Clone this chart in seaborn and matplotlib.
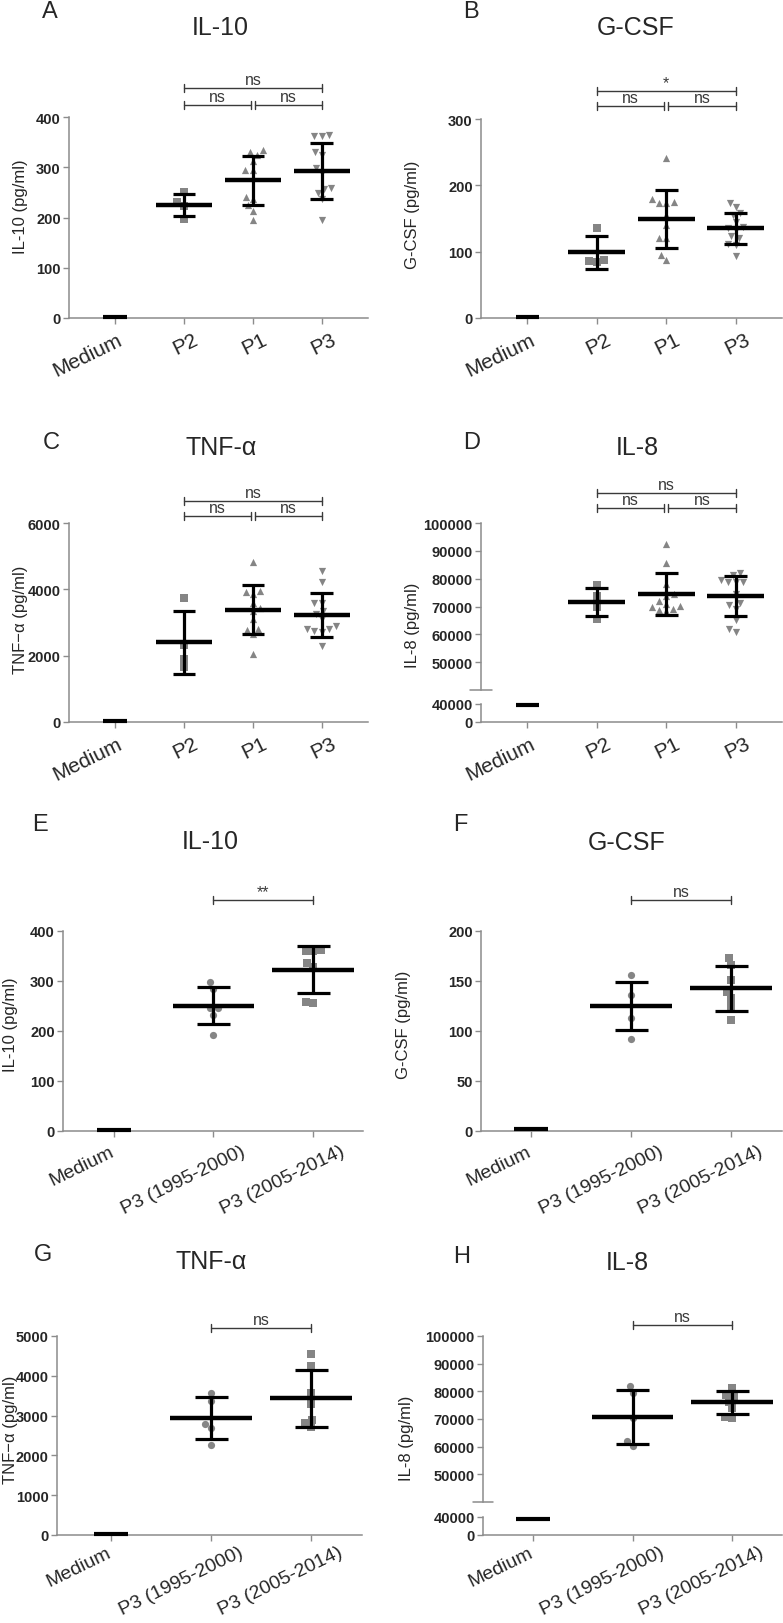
import matplotlib

matplotlib.use('Agg')
import matplotlib.pyplot as plt
import matplotlib.transforms as mtransforms
import pandas as pd
import seaborn as sns

W, H, DPI = 783, 1624, 100

GROUPS_TOP = ['Medium', 'P2', 'P1', 'P3']
GROUPS_YEAR = ['Medium', 'P3 (1995-2000)', 'P3 (2005-2014)']

# A - IL-10 per group (pg/ml)
IL10_P2 = [250, 230, 223, 197]
IL10_P1 = [335, 330, 325, 313, 295, 294, 240, 236, 224, 213, 196]
IL10_P3 = [364, 362, 363, 330, 325, 298, 288, 258, 257, 248, 236, 195]
IL10_MEAN = [2, 225, 274, 293]
IL10_SD = [0, 22, 49, 56]

# B - G-CSF per group
GCSF_P2 = [135, 88, 85, 86]
GCSF_P1 = [241, 180, 175, 174, 174, 155, 140, 121, 120, 95, 87]
GCSF_P3 = [174, 167, 158, 155, 145, 137, 135, 133, 124, 120, 112, 110, 93]
GCSF_MEAN = [2, 99, 149, 135]
GCSF_SD = [0, 25, 44, 24]

# C - TNF-alpha per group
TNF_P2 = [3730, 2310, 1890, 1645]
TNF_P1 = [4815, 3960, 3860, 3910, 3440, 3600, 3340, 3110, 2780, 2810, 2660, 2060]
TNF_P3 = [4540, 4230, 3590, 3590, 3360, 3250, 3100, 2890, 2810, 2800, 2730, 2720, 2290]
TNF_MEAN = [30, 2400, 3390, 3220]
TNF_SD = [0, 945, 750, 670]

# D - IL-8 per group
IL8_P2 = [77700, 73800, 70000, 65400]
IL8_P1 = [92400, 85800, 78000, 74400, 73800, 72000, 70900, 70200, 70000, 69200, 68600, 68300]
IL8_P3 = [82000, 81200, 79400, 78800, 78800, 78800, 74400, 71100, 70500, 69000, 65000, 61800, 60800]
IL8_MEAN = [37000, 71600, 74600, 73800]
IL8_SD = [0, 5100, 7500, 7200]

# E-H - P3 split by isolation period
IL10_Y95 = [298, 285, 246, 246, 233, 193]
IL10_Y05 = [363, 361, 361, 337, 329, 258, 256]
IL10_YR_MEAN = [2, 251, 323]
IL10_YR_SD = [0, 37.5, 47.5]

GCSF_Y95 = [156, 136, 113, 92]
GCSF_Y05 = [173, 166, 151, 139, 133, 125, 111]
GCSF_YR_MEAN = [2, 125, 143]
GCSF_YR_SD = [0, 24, 22.5]

TNF_Y95 = [3570, 3360, 2790, 2680, 2260]
TNF_Y05 = [4550, 4240, 3570, 3290, 2890, 2810, 2710]
TNF_YR_MEAN = [30, 2935, 3430]
TNF_YR_SD = [0, 525, 720]

IL8_Y95 = [81900, 79500, 70300, 62000, 60400]
IL8_Y05 = [81100, 78700, 78300, 76300, 73900, 70900, 70400]
IL8_YR_MEAN = [36500, 70700, 76000]
IL8_YR_SD = [0, 9700, 4100]

TOP_MARKERS = ['s', '^', 'v']
YEAR_MARKERS = ['o', 's']

POINT = '#858585'
SPINE = '#8c8c8c'
BRACKET = '#3a3a3a'

# horizontal nudges (px) of the rotated tick labels, like the original layout
SHIFT_TOP = [2, 9, 9, 9]
SHIFT_YEAR = [-5, 27, 27]

sns.set_style('ticks')
plt.rcParams['font.family'] = ['Liberation Sans', 'DejaVu Sans']


def make_axes(fig, left, top, right, bottom):
    return fig.add_axes([left / W, 1 - bottom / H, (right - left) / W, (bottom - top) / H])


def draw_groups(ax, groups, series, markers):
    for idx, (vals, mk) in enumerate(zip(series, markers), start=1):
        df = pd.DataFrame({'group': groups[idx], 'value': vals})
        sns.swarmplot(data=df, x='group', y='value', order=groups, marker=mk,
                      color=POINT, size=5.2, linewidth=0, ax=ax, zorder=2)


def draw_summary(ax, means, sds, idxs):
    for i in idxs:
        m, s = means[i], sds[i]
        if s == 0:
            ax.hlines(m, i - 0.17, i + 0.17, color='black', lw=3.0, zorder=4, clip_on=False)
            continue
        ax.hlines(m, i - 0.41, i + 0.41, color='black', lw=3.2, zorder=4)
        ax.vlines(i, m - s, m + s, color='black', lw=2.3, zorder=4)
        ax.hlines([m - s, m + s], i - 0.165, i + 0.165, color='black', lw=2.3, zorder=4)


def finish_axes(ax, groups, xlim, ylim, yticks, shifts=None, xsize=15, drop=3, bottom_spine=True):
    sns.despine(ax=ax, bottom=not bottom_spine)
    for side in ('left', 'bottom'):
        ax.spines[side].set_color(SPINE)
        ax.spines[side].set_linewidth(1.1)
    ax.set_xlim(*xlim)
    ax.set_ylim(*ylim)
    ax.set_yticks(yticks)
    ax.set_yticklabels([f'{t:g}' for t in yticks], fontweight='bold', fontsize=10.5)
    ax.tick_params(axis='both', color=SPINE, length=4, width=1, pad=2)
    ax.set_xlabel('')
    ax.set_ylabel('')
    if shifts is not None:
        ax.set_xticks(range(len(groups)))
        ax.set_xticklabels(groups, rotation=26, ha='right', va='top',
                           rotation_mode='anchor', fontsize=xsize)
        for lbl, dx in zip(ax.get_xticklabels(), shifts):
            shift = mtransforms.ScaledTranslation(dx / DPI, -drop / DPI, ax.figure.dpi_scale_trans)
            lbl.set_transform(lbl.get_transform() + shift)
    else:
        ax.set_xticks([])


def ylabel(fig, ax, text, xpix, ycenter):
    ax.set_ylabel(text, fontsize=12)
    ax.yaxis.set_label_coords(xpix / W, 1 - ycenter / H, transform=fig.transFigure)


def bracket(fig, ax, x1, x2, ypix, label):
    tr = mtransforms.blended_transform_factory(ax.transData, fig.transFigure)
    y = 1 - ypix / H
    dy = 4 / H
    kw = dict(color=BRACKET, lw=1.0, transform=tr, clip_on=False)
    ax.plot([x1, x2], [y, y], **kw)
    ax.plot([x1, x1], [y - dy, y + dy], **kw)
    ax.plot([x2, x2], [y - dy, y + dy], **kw)
    ax.text((x1 + x2) / 2, y + 1 / H, label, transform=tr, ha='center', va='bottom',
            fontsize=11.5, color=BRACKET,
            family=['Liberation Sans Narrow', 'Liberation Sans', 'DejaVu Sans'])


def heading(fig, letter, lx, ly, title, tx, ty):
    fig.text(lx / W, 1 - ly / H, letter, ha='center', va='center', fontsize=17)
    fig.text(tx / W, 1 - ty / H, title, ha='center', va='center', fontsize=18)


def three_brackets(fig, ax, ylow, yhigh, top_label):
    bracket(fig, ax, 1, 1.97, ylow, 'ns')
    bracket(fig, ax, 2.03, 3, ylow, 'ns')
    bracket(fig, ax, 1, 3, yhigh, top_label)


def simple_panel(fig, box, groups, series, markers, means, sds, ylim, yticks, xlim, shifts, xsize,
                 drop=3):
    ax = make_axes(fig, *box)
    draw_groups(ax, groups, series, markers)
    draw_summary(ax, means, sds, range(len(groups)))
    finish_axes(ax, groups, xlim, ylim, yticks, shifts=shifts, xsize=xsize, drop=drop)
    return ax


def broken_panel(fig, left, right, top, break_y, low_top, bottom, groups, series, markers,
                 means, sds, xlim, shifts, xsize, drop=3):
    upper = make_axes(fig, left, top, right, break_y)
    draw_groups(upper, groups, series, markers)
    draw_summary(upper, means, sds, range(1, len(groups)))
    finish_axes(upper, groups, xlim, (40000, 100000), [50000, 60000, 70000, 80000, 90000, 100000],
                bottom_spine=False)
    upper.plot([-0.035, 0.035], [0, 0], color=SPINE, lw=1.1, transform=upper.transAxes, clip_on=False)
    lower = make_axes(fig, left, low_top, right, bottom)
    draw_summary(lower, means, sds, [0])
    finish_axes(lower, groups, xlim, (0, 40000), [0, 40000], shifts=shifts, xsize=xsize, drop=drop)
    return upper, lower


fig = plt.figure(figsize=(W / DPI, H / DPI), dpi=DPI)

# A
heading(fig, 'A', 50, 12, 'IL-10', 220, 28)
ax = simple_panel(fig, (69, 118, 368, 319), GROUPS_TOP, [IL10_P2, IL10_P1, IL10_P3], TOP_MARKERS,
                  IL10_MEAN, IL10_SD, (0, 400), [0, 100, 200, 300, 400], (-0.67, 3.67), SHIFT_TOP, 15)
ylabel(fig, ax, 'IL-10 (pg/ml)', 28, 207)
three_brackets(fig, ax, 106, 89, 'ns')

# B
heading(fig, 'B', 471, 12, 'G-CSF', 636, 28)
ax = simple_panel(fig, (481, 120, 782, 319), GROUPS_TOP, [GCSF_P2, GCSF_P1, GCSF_P3], TOP_MARKERS,
                  GCSF_MEAN, GCSF_SD, (0, 300), [0, 100, 200, 300], (-0.67, 3.67), SHIFT_TOP, 15)
ylabel(fig, ax, 'G-CSF (pg/ml)', 420, 215)
three_brackets(fig, ax, 107, 92, '*')

# C
heading(fig, 'C', 51, 443, 'TNF-\u03b1', 221, 448)
ax = simple_panel(fig, (69, 524, 368, 723), GROUPS_TOP, [TNF_P2, TNF_P1, TNF_P3], TOP_MARKERS,
                  TNF_MEAN, TNF_SD, (0, 6000), [0, 2000, 4000, 6000], (-0.67, 3.67), SHIFT_TOP, 15)
ylabel(fig, ax, 'TNF\u2212\u03b1 (pg/ml)', 28, 620)
three_brackets(fig, ax, 517, 502, 'ns')

# D
heading(fig, 'D', 472, 443, 'IL-8', 637, 448)
up, low = broken_panel(fig, 481, 782, 524, 691, 705, 723, GROUPS_TOP, [IL8_P2, IL8_P1, IL8_P3],
                       TOP_MARKERS, IL8_MEAN, IL8_SD, (-0.67, 3.67), SHIFT_TOP, 15)
ylabel(fig, up, 'IL-8 (pg/ml)', 420, 625)
three_brackets(fig, up, 509, 494, 'ns')

# E
heading(fig, 'E', 40, 825, 'IL-10', 210, 842)
ax = simple_panel(fig, (63, 932, 363, 1132), GROUPS_YEAR, [IL10_Y95, IL10_Y05], YEAR_MARKERS,
                  IL10_YR_MEAN, IL10_YR_SD, (0, 400), [0, 100, 200, 300, 400], (-0.51, 2.5),
                  SHIFT_YEAR, 14)
ylabel(fig, ax, 'IL-10 (pg/ml)', 18, 1025)
bracket(fig, ax, 1, 2, 901, '**')

# F
heading(fig, 'F', 460, 825, 'G-CSF', 627, 843)
ax = simple_panel(fig, (481, 932, 782, 1132), GROUPS_YEAR, [GCSF_Y95, GCSF_Y05], YEAR_MARKERS,
                  GCSF_YR_MEAN, GCSF_YR_SD, (0, 200), [0, 50, 100, 150, 200], (-0.5, 2.51),
                  SHIFT_YEAR, 14)
ylabel(fig, ax, 'G-CSF (pg/ml)', 411, 1025)
bracket(fig, ax, 1, 2, 901, 'ns')

# G
heading(fig, 'G', 43, 1255, 'TNF-\u03b1', 211, 1262)
ax = simple_panel(fig, (57, 1337, 362, 1536), GROUPS_YEAR, [TNF_Y95, TNF_Y05], YEAR_MARKERS,
                  TNF_YR_MEAN, TNF_YR_SD, (0, 5000), [0, 1000, 2000, 3000, 4000, 5000], (-0.54, 2.51),
                  SHIFT_YEAR, 14, drop=0)
ylabel(fig, ax, 'TNF\u2212\u03b1 (pg/ml)', 18, 1430)
bracket(fig, ax, 1, 2, 1329, 'ns')

# H
heading(fig, 'H', 462, 1257, 'IL-8', 627, 1263)
up, low = broken_panel(fig, 483, 782, 1337, 1503, 1518, 1536, GROUPS_YEAR, [IL8_Y95, IL8_Y05],
                       YEAR_MARKERS, IL8_YR_MEAN, IL8_YR_SD, (-0.5, 2.5), SHIFT_YEAR, 14, drop=0)
ylabel(fig, up, 'IL-8 (pg/ml)', 414, 1438)
bracket(fig, up, 1, 2, 1326, 'ns')

fig.savefig('out.png', dpi=DPI)
plt.close(fig)
